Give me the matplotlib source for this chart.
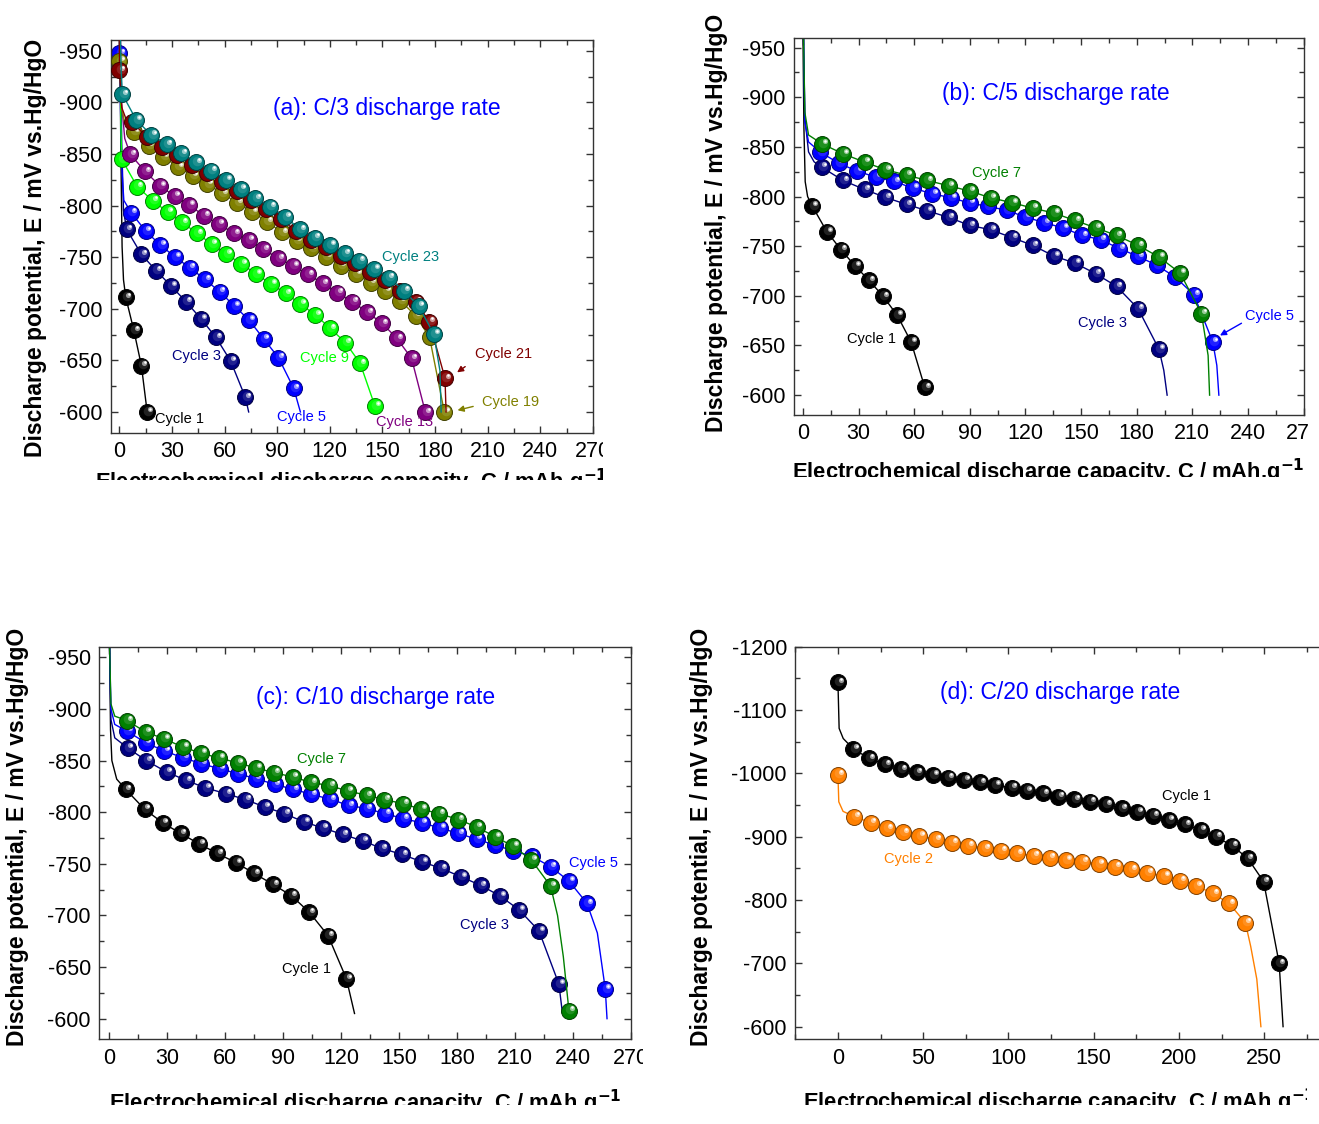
import numpy as np
import matplotlib
matplotlib.use("Agg")
import matplotlib.pyplot as plt
from matplotlib.colors import to_rgb
from matplotlib.transforms import offset_copy, Bbox, TransformedBbox
from matplotlib.ticker import MultipleLocator

plt.rcParams['font.family'] = ['Liberation Sans', 'DejaVu Sans']
plt.rcParams['axes.unicode_minus'] = False

# ---------------- (a) C/3 ----------------
a_c1_x = [3.6, 8.2, 12.5, 15.8]
a_c1_y = [-711, -679, -645, -600]
a_c1_lx = [0.2, 0.8, 1.5, 2.3]
a_c1_ly = [-965, -850, -760, -728]

a_c3_x = [4.1, 12.5, 20.9, 29.5, 37.9, 46.6, 55.0, 63.4, 71.8]
a_c3_y = [-776.9, -752.7, -736.9, -722.0, -706.9, -690.1, -672.3, -649.4, -614.2]
a_c3_lx = [0.5, 1.3, 2.3, 73.7]
a_c3_ly = [-965, -860, -795, -600]

a_c5_x = [0, 6.7, 14.9, 23.3, 31.7, 40.1, 48.7, 57.1, 65.5, 73.9, 82.3, 90.7, 99.4]
a_c5_y = [-947.4, -793.1, -775.3, -761.8, -750.1, -739.8, -728.5, -716.6, -702.7,
          -689.1, -670.7, -652.6, -622.9]
a_c5_lx = [0, 1.2, 2.5, 103.2]
a_c5_ly = [-962, -840, -805, -600]

a_c9_x = [1.2, 10.1, 19.0, 27.4, 35.8, 44.2, 52.6, 61.0, 69.6, 78.0, 86.4, 94.8,
          103.2, 111.8, 120.2, 128.9, 137.3, 145.7]
a_c9_y = [-845.1, -818.3, -804.7, -793.7, -783.7, -773.1, -762.7, -753.0, -743.4,
          -733.7, -724.0, -714.9, -704.6, -694.0, -681.0, -667.2, -647.1, -605.8]
a_c9_lx = [0.4, 0.8, 146.5]
a_c9_ly = [-965, -880, -600]

a_c13_x = [6.2, 14.6, 23.0, 31.4, 39.8, 48.2, 56.6, 65.3, 73.7, 82.1, 90.7, 99.1,
           107.5, 115.9, 124.3, 132.9, 141.4, 149.8, 158.2, 166.6, 174.5]
a_c13_y = [-849.6, -833.1, -819.2, -809.2, -800.5, -790.2, -782.1, -773.1, -766.6,
           -757.6, -748.8, -741.7, -733.3, -724.6, -715.6, -706.9, -696.5, -685.9,
           -671.4, -652.0, -599.7]
a_c13_lx = [0.5, 1.2, 3.0]
a_c13_ly = [-965, -900, -865]

a_c19_x = [0, 8.2, 16.6, 25.0, 33.4, 41.8, 50.2, 58.6, 67.2, 75.6, 84.2, 92.6, 101.0,
           109.4, 117.8, 126.2, 134.9, 143.3, 151.7, 160.3, 168.9, 176.9, 185.3]
a_c19_y = [-940.0, -871.5, -858.0, -847.3, -837.6, -828.9, -820.8, -811.8, -802.8,
           -794.0, -784.4, -774.0, -766.0, -758.5, -750.5, -741.7, -733.7, -725.3,
           -717.2, -707.8, -693.3, -672.3, -600.0]
a_c19_lx = [0, 1.2, 3.0]
a_c19_ly = [-962, -895, -880]

a_c21_x = [0, 7.2, 15.8, 24.5, 33.0, 41.4, 50.0, 58.4, 66.8, 75.2, 83.6, 92.3, 100.7,
           109.1, 117.7, 126.1, 134.5, 142.9, 151.3, 160.0, 169.1, 176.7, 185.7]
a_c21_y = [-931.0, -881.0, -866.0, -857.0, -848.5, -839.5, -831.5, -822.5, -814.0,
           -805.0, -796.5, -787.0, -775.0, -767.0, -759.5, -751.5, -744.0, -736.0,
           -727.5, -717.0, -707.0, -687.5, -632.6]
a_c21_lx = [0, 1.3, 3.5, 186.3]
a_c21_ly = [-962, -895, -885, -600]

a_c23_x = [1.7, 9.6, 18.2, 26.9, 35.3, 43.7, 52.3, 60.7, 69.1, 77.5, 85.9, 94.6,
           103.0, 111.4, 120.0, 128.4, 136.8, 145.2, 153.6, 162.2, 170.6, 179.3]
a_c23_y = [-907.7, -882.8, -868.3, -859.3, -850.6, -841.8, -833.8, -824.7, -816.0,
           -807.0, -798.9, -789.0, -776.9, -768.9, -761.8, -753.7, -746.6, -738.5,
           -730.1, -717.5, -702.7, -675.6]
a_c23_lx = [0.5, 1.0, 182.8, 183.5]
a_c23_ly = [-965, -930, -640, -600]

# ---------------- (b) C/5 ----------------
b_c1_x = [5.0, 12.9, 20.5, 28.1, 35.6, 43.2, 50.8, 58.3, 65.7]
b_c1_y = [-790.4, -764.6, -746.5, -730.1, -715.7, -699.6, -680.5, -653.7, -607.7]
b_c1_lx = [0, 0.5, 1.2, 2.5]
b_c1_ly = [-962, -870, -815, -800]

b_c3_x = [10.0, 21.6, 33.2, 44.5, 55.9, 67.0, 78.6, 89.9, 101.2, 112.8, 123.9, 135.3,
          146.6, 157.8, 169.1, 180.7, 192.0]
b_c3_y = [-829.7, -816.2, -807.2, -799.1, -792.1, -785.7, -779.0, -771.0, -766.6,
          -758.6, -750.9, -740.1, -733.1, -722.4, -709.6, -687.2, -646.3]
b_c3_lx = [0.3, 1.0, 3.0, 6.0, 194.6, 196.4]
b_c3_ly = [-962, -880, -845, -835, -625, -600]

b_c5_x = [9.4, 19.2, 29.2, 39.3, 49.3, 59.3, 69.8, 79.8, 89.9, 99.9, 109.9, 120.0,
          130.2, 140.3, 150.6, 160.6, 170.7, 180.7, 190.8, 200.7, 210.8, 221.0]
b_c5_y = [-844.7, -833.7, -825.6, -819.6, -815.2, -808.5, -802.8, -798.8, -793.5,
          -790.1, -786.1, -779.4, -773.7, -768.4, -760.9, -756.6, -747.5, -739.8,
          -730.8, -719.0, -701.3, -653.7]
b_c5_lx = [0.3, 1.0, 3.0, 223.2, 224.3]
b_c5_ly = [-962, -875, -855, -630, -600]

b_c7_x = [10.3, 21.6, 33.2, 44.5, 55.9, 67.0, 78.6, 89.9, 101.2, 112.8, 123.9, 135.3,
          146.6, 157.8, 169.1, 180.7, 192.0, 203.4, 214.9]
b_c7_y = [-853.1, -843.1, -834.7, -827.0, -821.6, -816.2, -810.9, -805.5, -798.8,
          -793.8, -788.4, -783.4, -776.0, -768.6, -760.9, -750.9, -739.1, -723.0, -682.1]
b_c7_lx = [0.3, 1.0, 3.0, 218.5, 219.3]
b_c7_ly = [-962, -885, -862, -640, -600]

# ---------------- (c) C/10 ----------------
c_c1_x = [8.6, 18.4, 27.8, 37.1, 46.8, 56.1, 65.8, 75.1, 84.8, 94.3, 103.6, 113.3, 122.8]
c_c1_y = [-822.2, -802.9, -789.7, -779.4, -769.1, -760.0, -751.0, -740.7, -730.1,
          -719.2, -703.1, -680.5, -638.7]
c_c1_lx = [0.3, 0.8, 1.5, 4.0, 127.0]
c_c1_ly = [-962, -880, -850, -832, -605]

c_c3_x = [9.7, 19.4, 29.8, 39.9, 49.9, 60.5, 70.6, 80.5, 90.7, 100.8, 110.5, 120.9,
          131.2, 141.1, 151.5, 161.8, 171.8, 182.0, 192.3, 202.3, 212.2, 222.4, 232.7]
c_c3_y = [-862.1, -849.9, -838.9, -830.9, -823.5, -818.0, -812.2, -805.1, -798.7,
          -790.6, -784.8, -778.4, -772.3, -764.9, -759.1, -752.0, -745.6, -737.5,
          -729.1, -718.8, -705.3, -685.0, -633.5]
c_c3_lx = [0.3, 1.0, 3.0, 234.5]
c_c3_ly = [-962, -890, -872, -606]

c_c5_x = [9.3, 19.0, 28.7, 38.3, 47.7, 57.2, 66.7, 75.9, 85.7, 95.2, 104.6, 114.4,
          123.9, 133.2, 142.7, 152.2, 161.7, 171.2, 180.7, 190.1, 199.6, 209.2, 218.6,
          228.4, 237.9, 247.2, 256.7]
c_c5_y = [-878.5, -867.3, -859.2, -852.8, -847.0, -842.1, -837.3, -832.5, -827.0,
          -822.2, -817.4, -812.5, -806.7, -803.5, -798.7, -793.8, -789.7, -784.8,
          -779.4, -773.9, -768.1, -762.6, -757.5, -747.2, -733.3, -711.8, -628.7]
c_c5_lx = [0.3, 1.0, 3.0, 252.6, 257.6]
c_c5_ly = [-962, -900, -885, -683, -600]

c_c7_x = [9.3, 19.0, 28.5, 38.2, 47.5, 57.0, 66.5, 76.0, 85.5, 95.0, 104.5, 114.0,
          123.5, 133.2, 142.5, 152.0, 161.5, 170.8, 180.6, 190.1, 199.8, 209.0, 218.5,
          228.4, 237.9]
c_c7_y = [-888.8, -877.6, -871.1, -863.1, -857.3, -852.4, -847.9, -842.8, -838.3,
          -834.1, -828.9, -825.7, -820.6, -816.4, -812.2, -808.3, -802.9, -798.7,
          -792.9, -785.8, -776.1, -767.1, -753.6, -728.5, -607.8]
c_c7_lx = [0.3, 1.0, 3.0, 232.0, 235.0]
c_c7_ly = [-962, -905, -893, -700, -660]

# ---------------- (d) C/20 ----------------
d_c1_x = [0, 9.1, 18.2, 27.7, 37.0, 46.1, 55.7, 64.5, 74.1, 83.2, 92.2, 101.8, 110.6,
          120.2, 129.3, 138.6, 147.9, 157.2, 166.3, 175.6, 184.7, 193.9, 203.5, 212.6,
          221.7, 231.0, 240.3, 249.6, 258.7]
d_c1_y = [-1143.7, -1038.4, -1023.7, -1014.2, -1006.3, -1001.6, -997.4, -993.2,
          -989.5, -985.8, -981.6, -977.4, -972.6, -968.4, -963.2, -958.9, -955.3,
          -951.1, -944.7, -938.9, -933.2, -926.3, -919.5, -910.5, -900.0, -885.8,
          -865.8, -829.0, -700.0]
d_c1_lx = [0.7, 3.1, 261.0]
d_c1_ly = [-1071, -1055, -600]

d_c2_x = [0, 9.6, 19.1, 28.7, 38.2, 47.8, 57.3, 66.9, 76.4, 86.0, 95.6, 105.1, 114.7,
          124.2, 133.8, 143.3, 152.9, 162.4, 172.0, 181.5, 191.1, 200.7, 210.2, 219.8,
          229.3, 238.9]
d_c2_y = [-997.9, -931.6, -922.1, -913.2, -906.8, -901.1, -895.8, -890.5, -885.8,
          -881.6, -877.9, -873.7, -870.0, -866.8, -863.2, -860.5, -856.8, -852.6,
          -848.4, -843.2, -837.9, -830.5, -822.1, -810.5, -794.7, -764.2]
d_c2_lx = [0.5, 3.0, 242.0, 245.6, 248.0]
d_c2_ly = [-955, -940, -727, -675, -600]

BLACK, NAVY, BLUE, LIME = '#000000', '#000080', '#0000ff', '#00ff00'
PURPLE, OLIVE, MAROON, TEAL = '#800080', '#808000', '#800000', '#008080'
GREEN, ORANGE = '#008000', '#ff8000'

W, H = 1319, 1124
fig = plt.figure(figsize=(W / 100, H / 100), dpi=100)


def px_axes(left, right, top, bottom):
    return fig.add_axes([left / W, 1 - bottom / H, (right - left) / W, (bottom - top) / H])


def draw_balls(ax, x, y, color, z, ms=11.5):
    # shaded spheres: dark rim, body, soft glow and a white specular spot
    base = np.array(to_rgb(color))
    dark = base * 0.5
    mid = base + (1 - base) * 0.25
    light = base + (1 - base) * 0.6
    ax.plot(x, y, 'o', ms=ms, mfc=base, mec=dark, mew=0.7, zorder=z)
    t1 = offset_copy(ax.transData, fig=fig, x=ms * 0.08, y=ms * 0.08, units='points')
    ax.plot(x, y, 'o', ms=ms * 0.6, mfc=mid, mec='none', alpha=0.5, transform=t1, zorder=z)
    t2 = offset_copy(ax.transData, fig=fig, x=ms * 0.17, y=ms * 0.17, units='points')
    ax.plot(x, y, 'o', ms=ms * 0.32, mfc=light, mec='none', transform=t2, zorder=z)
    t3 = offset_copy(ax.transData, fig=fig, x=ms * 0.2, y=ms * 0.2, units='points')
    ax.plot(x, y, 'o', ms=ms * 0.16, mfc='white', mec='none', transform=t3, zorder=z)


def draw_series(ax, mx, my, lx, ly, color, z):
    pts = sorted(zip(list(mx) + list(lx), list(my) + list(ly)))
    px, py = zip(*pts)
    ax.plot(px, py, '-', color=color, lw=1.0, zorder=z)
    draw_balls(ax, mx, my, color, z + 0.05)


def style_axes(ax, xlim, ylim, xmaj, xmin, ymaj, ymin, clip, ylab_xy, xlab_y, right=True):
    ax.set_xlim(*xlim)
    ax.set_ylim(*ylim)
    ax.xaxis.set_major_locator(MultipleLocator(xmaj))
    ax.xaxis.set_minor_locator(MultipleLocator(xmin))
    ax.yaxis.set_major_locator(MultipleLocator(ymaj))
    ax.yaxis.set_minor_locator(MultipleLocator(ymin))
    ax.tick_params(which='both', direction='in', top=True, right=right,
                   labelsize=15.5, colors='#333333', labelcolor='black', pad=6)
    ax.tick_params(which='major', length=5, width=1.0)
    ax.tick_params(which='minor', length=3.5, width=1.0)
    for s in ax.spines.values():
        s.set_color('#333333')
        s.set_linewidth(1.0)
    if not right:
        ax.spines['right'].set_visible(False)
    ax.set_ylabel('Discharge potential, E / mV vs.Hg/HgO', fontsize=16.5,
                  fontweight='bold', va='center')
    ax.yaxis.set_label_coords(*ylab_xy)
    ax.set_xlabel('Electrochemical discharge capacity, C / mAh.g$^{\\mathbf{-1}}$',
                  fontsize=15.8, fontweight='bold', va='top')
    ax.xaxis.set_label_coords(0.5, xlab_y)
    # each panel is cut at its own frame, so its texts are clipped there
    x0, y0, x1, y1 = clip
    box = TransformedBbox(Bbox.from_extents(x0 / W, 1 - y1 / H, x1 / W, 1 - y0 / H),
                          fig.transFigure)
    fig.canvas.draw()
    texts = ax.get_xticklabels() + ax.get_yticklabels() + [ax.xaxis.label, ax.yaxis.label]
    for t in texts:
        t.set_clip_box(box)
        t.set_clip_on(True)


def cycle_text(ax, x, y, s, color, size=10.5):
    ax.text(x, y, s, color=color, fontsize=size, ha='center', va='center', zorder=10)


def arrow(ax, xy, xytext, color):
    ax.annotate('', xy=xy, xytext=xytext, zorder=10,
                arrowprops=dict(arrowstyle='-|>', color=color, lw=1.0, mutation_scale=9))


# panel (a)
ax = px_axes(110.7, 592.8, 40.4, 432.6)
series = [(a_c1_x, a_c1_y, a_c1_lx, a_c1_ly, BLACK),
          (a_c3_x, a_c3_y, a_c3_lx, a_c3_ly, NAVY),
          (a_c5_x, a_c5_y, a_c5_lx, a_c5_ly, BLUE),
          (a_c9_x, a_c9_y, a_c9_lx, a_c9_ly, LIME),
          (a_c13_x, a_c13_y, a_c13_lx, a_c13_ly, PURPLE),
          (a_c19_x, a_c19_y, a_c19_lx, a_c19_ly, OLIVE),
          (a_c21_x, a_c21_y, a_c21_lx, a_c21_ly, MAROON),
          (a_c23_x, a_c23_y, a_c23_lx, a_c23_ly, TEAL)]
for i, (mx, my, lx, ly, col) in enumerate(series):
    draw_series(ax, mx, my, lx, ly, col, 2 + i * 0.1)
ax.text(152.4, -894, '(a): C/3 discharge rate', color=BLUE, fontsize=16.5,
        ha='center', va='center')
cycle_text(ax, 166.1, -750.5, 'Cycle 23', TEAL)
cycle_text(ax, 218.9, -655.9, 'Cycle 21', MAROON)
arrow(ax, (191.3, -636.8), (198.5, -645.5), MAROON)
cycle_text(ax, 223.2, -609.4, 'Cycle 19', OLIVE)
arrow(ax, (191.3, -601), (203.3, -606), OLIVE)
cycle_text(ax, 162.5, -590, 'Cycle 13', PURPLE)
cycle_text(ax, 116.9, -652, 'Cycle 9', LIME)
cycle_text(ax, 103.7, -595.5, 'Cycle 5', BLUE)
cycle_text(ax, 43.7, -654.2, 'Cycle 3', NAVY)
cycle_text(ax, 34.1, -593.2, 'Cycle 1', BLACK)
style_axes(ax, (-5, 270), (-580, -960), 30, 15, 50, 25, (0, 0, 603, 480),
           (-0.157, 0.47), -0.088)

# panel (b)
ax = px_axes(793.7, 1303.6, 37.7, 415)
series = [(b_c1_x, b_c1_y, b_c1_lx, b_c1_ly, BLACK),
          (b_c3_x, b_c3_y, b_c3_lx, b_c3_ly, NAVY),
          (b_c5_x, b_c5_y, b_c5_lx, b_c5_ly, BLUE),
          (b_c7_x, b_c7_y, b_c7_lx, b_c7_ly, GREEN)]
for i, (mx, my, lx, ly, col) in enumerate(series):
    draw_series(ax, mx, my, lx, ly, col, 2 + i * 0.1)
ax.text(136.4, -903.4, '(b): C/5 discharge rate', color=BLUE, fontsize=16.5,
        ha='center', va='center')
cycle_text(ax, 104.3, -823.6, 'Cycle 7', GREEN)
cycle_text(ax, 161.5, -672.8, 'Cycle 3', NAVY)
cycle_text(ax, 251.6, -679.5, 'Cycle 5', BLUE)
arrow(ax, (223.6, -658.7), (237.8, -673.8), BLUE)
cycle_text(ax, 36.7, -657, 'Cycle 1', BLACK)
style_axes(ax, (-5, 270), (-580, -960), 30, 15, 50, 25, (690, 0, 1309, 477),
           (-0.152, 0.508), -0.112)

# panel (c)
ax = px_axes(99.3, 631.0, 647, 1039.3)
series = [(c_c1_x, c_c1_y, c_c1_lx, c_c1_ly, BLACK),
          (c_c3_x, c_c3_y, c_c3_lx, c_c3_ly, NAVY),
          (c_c5_x, c_c5_y, c_c5_lx, c_c5_ly, BLUE),
          (c_c7_x, c_c7_y, c_c7_lx, c_c7_ly, GREEN)]
for i, (mx, my, lx, ly, col) in enumerate(series):
    draw_series(ax, mx, my, lx, ly, col, 2 + i * 0.1)
ax.text(137.7, -911.4, '(c): C/10 discharge rate', color=BLUE, fontsize=16.5,
        ha='center', va='center')
cycle_text(ax, 109.7, -851.8, 'Cycle 7', GREEN)
cycle_text(ax, 250.4, -750.4, 'Cycle 5', BLUE)
cycle_text(ax, 194.3, -690.8, 'Cycle 3', NAVY)
cycle_text(ax, 102.1, -648.3, 'Cycle 1', BLACK)
style_axes(ax, (-5, 270), (-580, -960), 30, 15, 50, 25, (0, 560, 643, 1105),
           (-0.153, 0.516), -0.124)

# panel (d)
ax = px_axes(795.3, 1324.0, 646.7, 1039.3)
draw_series(ax, d_c1_x, d_c1_y, d_c1_lx, d_c1_ly, BLACK, 2)
draw_series(ax, d_c2_x, d_c2_y, d_c2_lx, d_c2_ly, ORANGE, 2.1)
ax.text(130.4, -1127.4, '(d): C/20 discharge rate', color=BLUE, fontsize=16.5,
        ha='center', va='center')
cycle_text(ax, 204.5, -964.2, 'Cycle 1', BLACK)
cycle_text(ax, 41.3, -865, 'Cycle 2', ORANGE)
style_axes(ax, (-25, 285), (-580, -1200), 50, 25, 100, 50, (680, 560, 1307, 1105),
           (-0.178, 0.516), -0.122, right=False)

fig.savefig('out.png', dpi=100)
